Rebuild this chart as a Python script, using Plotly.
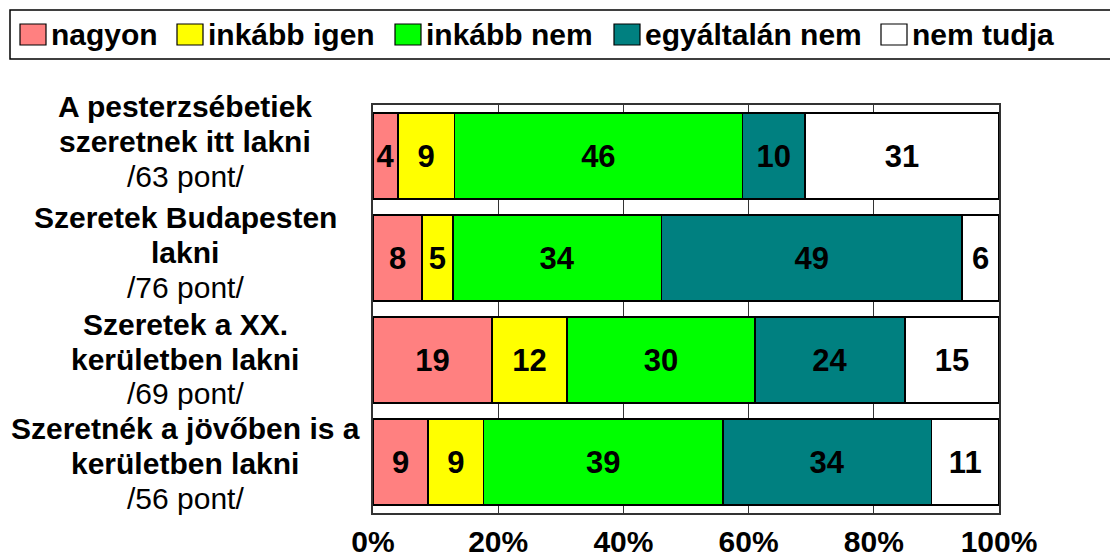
import plotly.graph_objects as go

# Survey statements (bold lines) and their score line
categories = [
    "A pesterzsébetiek szeretnek itt lakni",
    "Szeretek Budapesten lakni",
    "Szeretek a XX. kerületben lakni",
    "Szeretnék a jövőben is a kerületben lakni",
]
category_lines = [
    ["A pesterzsébetiek", "szeretnek itt lakni"],
    ["Szeretek Budapesten", "lakni"],
    ["Szeretek a XX.", "kerületben lakni"],
    ["Szeretnék a jövőben is a", "kerületben lakni"],
]
points = ["/63 pont/", "/76 pont/", "/69 pont/", "/56 pont/"]

series_names = ["nagyon", "inkább igen", "inkább nem", "egyáltalán nem", "nem tudja"]
nagyon = [4, 8, 19, 9]
inkabb_igen = [9, 5, 12, 9]
inkabb_nem = [46, 34, 30, 39]
egyaltalan_nem = [10, 49, 24, 34]
nem_tudja = [31, 6, 15, 11]
series_values = [nagyon, inkabb_igen, inkabb_nem, egyaltalan_nem, nem_tudja]

tick_vals = [0, 20, 40, 60, 80, 100]
tick_text = ["0%", "20%", "40%", "60%", "80%", "100%"]

colors = ["#FF8080", "#FFFF00", "#00FF00", "#008080", "#FFFFFF"]

W, H = 1110, 557
ML, MR, MT, MB = 373, 111, 105, 44
PW, PH = W - ML - MR, H - MT - MB
FONT = "Liberation Sans, Arial, sans-serif"


def px_x(px):
    return (px - ML) / PW


def px_y(py):
    return (H - MB - py) / PH


fig = go.Figure()
for name, vals, col in zip(series_names, series_values, colors):
    fig.add_trace(go.Bar(
        y=categories,
        x=vals,
        name=name,
        orientation="h",
        marker=dict(color=col, line=dict(color="#000000", width=1.5)),
        text=[str(v) for v in vals],
        textposition="inside",
        insidetextanchor="middle",
        textangle=0,
        textfont=dict(family=FONT, size=31, color="#000000", weight="bold"),
        showlegend=False,
        hoverinfo="name+x",
    ))

annotations = []
shapes = []

# Category labels to the left of the bars
label_centers = [141, 252, 359, 463]
label_cx = px_x(185)
for lines, pts, cy in zip(category_lines, points, label_centers):
    rows = [(f"<b>{lines[0]}</b>", cy - 35), (f"<b>{lines[1]}</b>", cy), (pts, cy + 35)]
    for txt, y in rows:
        annotations.append(dict(
            text=txt, xref="paper", yref="paper", x=label_cx, y=px_y(y),
            xanchor="center", yanchor="middle", showarrow=False,
            font=dict(family=FONT, size=30, color="#000000"),
        ))

# Legend box along the top
shapes.append(dict(
    type="rect", xref="paper", yref="paper",
    x0=px_x(10), x1=px_x(1116), y0=px_y(59), y1=px_y(10),
    line=dict(color="#000000", width=1.5), fillcolor="#FFFFFF", layer="below",
))
legend_x = [20, 177, 395, 614, 881]
for name, col, lx in zip(series_names, colors, legend_x):
    shapes.append(dict(
        type="rect", xref="paper", yref="paper",
        x0=px_x(lx), x1=px_x(lx + 26), y0=px_y(45), y1=px_y(24),
        line=dict(color="#000000", width=1.2), fillcolor=col,
    ))
    annotations.append(dict(
        text=f"<b>{name}</b>", xref="paper", yref="paper",
        x=px_x(lx + 30), y=px_y(34.5), xanchor="left", yanchor="middle",
        showarrow=False, borderpad=0,
        font=dict(family=FONT, size=30, color="#000000"),
    ))

fig.update_layout(
    width=W, height=H,
    margin=dict(l=ML, r=MR, t=MT, b=MB, autoexpand=False),
    barmode="stack",
    barnorm="percent",
    bargap=0.157,
    plot_bgcolor="#FFFFFF",
    paper_bgcolor="#FFFFFF",
    font=dict(family=FONT, color="#000000"),
    uniformtext=dict(minsize=31, mode="show"),
    annotations=annotations,
    shapes=shapes,
    xaxis=dict(
        range=[0, 100],
        tickmode="array", tickvals=tick_vals, ticktext=tick_text,
        tickfont=dict(family=FONT, size=30, color="#000000", weight="bold"),
        ticks="", ticklabelstandoff=1,
        showgrid=True, gridcolor="#333333", gridwidth=1,
        showline=True, linecolor="#333333", linewidth=2, mirror=True,
        zeroline=False, fixedrange=True, automargin=False,
    ),
    yaxis=dict(
        type="category",
        categoryorder="array", categoryarray=categories,
        autorange="reversed",
        showticklabels=False, ticks="",
        showgrid=False,
        showline=True, linecolor="#333333", linewidth=2, mirror=True,
        zeroline=False, fixedrange=True, automargin=False,
    ),
)

fig.write_html("out.html")
